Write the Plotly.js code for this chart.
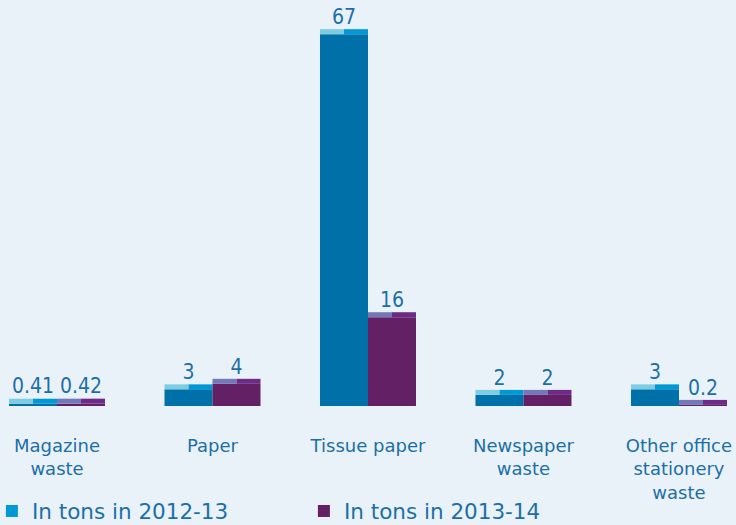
<!DOCTYPE html>
<html>
<head>
<meta charset="utf-8">
<script src="https://cdn.plot.ly/plotly-3.0.1.min.js"></script>
<style>
html,body{margin:0;padding:0;background:#eaf2f9;}
#chart{width:736px;height:525px;}
</style>
</head>
<body>
<div id="chart"></div>
<script>
const categories = ['Magazine<br>waste', 'Paper', 'Tissue paper', 'Newspaper<br>waste', 'Other office<br>stationery<br>waste'];
const values2012 = [0.41, 3, 67, 2, 3];
const values2013 = [0.42, 4, 16, 2, 0.2];
const labels2012 = ['0.41', '3', '67', '2', '3'];
const labels2013 = ['0.42', '4', '16', '2', '0.2'];
const seriesNames = ['In tons in 2012-13', 'In tons in 2013-14'];

const idx = categories.map((_, i) => i);
const W = 0.3087;     // bar width (axis units)
const CAP = 0.9;      // height of the lighter top face
const FONT = '"DejaVu Sans", sans-serif';
const FONT_C = '"DejaVu Sans Condensed", "DejaVu Sans", sans-serif';
const TXT = '#1c6fa6';

const colors = {
  blueBody: '#0070a8', blueCapL: '#7ccde2', blueCapR: '#0098d5',
  purpleBody: '#632064', purpleCapL: '#7378b8', purpleCapR: '#6d2a87'
};

function barTrace(vals, base, off, width, color, name, showlegend, rank) {
  return {
    type: 'bar', x: idx, y: vals, base: base, offset: off, width: width,
    marker: {color: color, line: {width: 0}}, name: name,
    showlegend: showlegend, legendrank: rank, hoverinfo: 'skip'
  };
}
const capVals = a => a.map(() => CAP);

const traces = [
  // 2012-13 series
  barTrace(values2012, 0, -W, W, colors.blueBody, seriesNames[0], false, 1),
  barTrace(capVals(values2012), values2012, -W, W / 2, colors.blueCapL, seriesNames[0], false, 1),
  barTrace(capVals(values2012), values2012, -W / 2, W / 2, colors.blueCapR, seriesNames[0], true, 1),
  // 2013-14 series
  barTrace(values2013, 0, 0, W, colors.purpleBody, seriesNames[1], true, 2),
  barTrace(capVals(values2013), values2013, 0, W / 2, colors.purpleCapL, seriesNames[1], false, 2),
  barTrace(capVals(values2013), values2013, W / 2, W / 2, colors.purpleCapR, seriesNames[1], false, 2),
  // value labels
  {type: 'scatter', mode: 'text', x: idx.map(i => i - W / 2), y: values2012.map(v => v + CAP),
   text: labels2012, textposition: 'top center', textfont: {family: FONT_C, size: 21, color: TXT},
   showlegend: false, hoverinfo: 'skip', cliponaxis: false},
  {type: 'scatter', mode: 'text', x: idx.map(i => i + W / 2), y: values2013.map(v => v + CAP),
   text: labels2013, textposition: 'top center', textfont: {family: FONT_C, size: 21, color: TXT},
   showlegend: false, hoverinfo: 'skip', cliponaxis: false}
];

const layout = {
  width: 736, height: 525,
  paper_bgcolor: '#eaf2f9', plot_bgcolor: '#eaf2f9',
  margin: {l: 0, r: 0, t: 20, b: 119, autoexpand: false},
  barmode: 'overlay',
  font: {family: FONT, color: TXT},
  xaxis: {
    range: [-0.3666, 4.3667], tickvals: idx, ticktext: categories,
    showgrid: false, zeroline: false, showline: false, ticks: '', automargin: false,
    ticklabeloverflow: 'allow',
    tickfont: {family: FONT, size: 18, color: TXT}, ticklabelstandoff: 27, fixedrange: true
  },
  yaxis: {range: [0, 69.55], visible: false, fixedrange: true},
  legend: {
    orientation: 'h', x: -0.011, xanchor: 'left', y: -0.272, yanchor: 'middle',
    font: {family: FONT, size: 21.5, color: TXT}, traceorder: 'normal',
    entrywidth: 267, entrywidthmode: 'pixels', bgcolor: 'rgba(0,0,0,0)'
  },
  showlegend: true
};

Plotly.newPlot('chart', traces, layout, {displayModeBar: false, staticPlot: true});
</script>
</body>
</html>
